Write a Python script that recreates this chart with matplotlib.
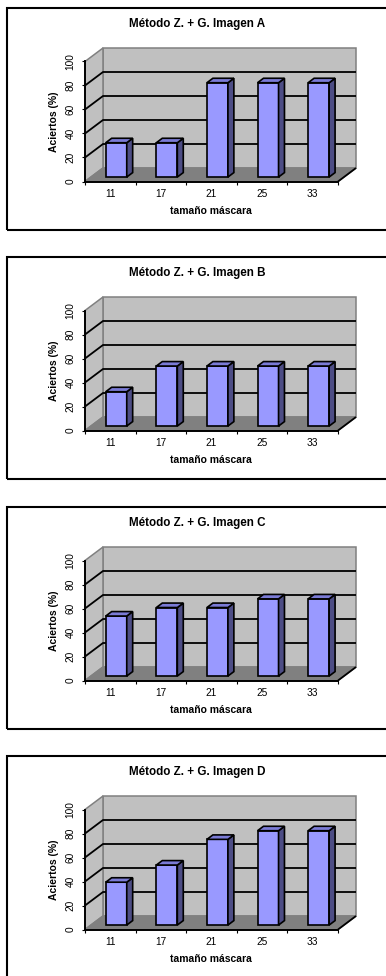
import numpy as np
import matplotlib
matplotlib.use("Agg")
import matplotlib.pyplot as plt
from matplotlib.patches import Polygon, Rectangle

plt.rcParams['font.family'] = ['Liberation Sans', 'DejaVu Sans']

# ---------------- data ----------------
categories = ["11", "17", "21", "25", "33"]
titles = ["Método Z. + G. Imagen A", "Método Z. + G. Imagen B",
          "Método Z. + G. Imagen C", "Método Z. + G. Imagen D"]
values_A = [28.6, 28.6, 78.6, 78.6, 78.6]
values_B = [28.6, 50.0, 50.0, 50.0, 50.0]
values_C = [50.0, 57.1, 57.1, 64.3, 64.3]
values_D = [35.7, 50.0, 71.4, 78.6, 78.6]
y_ticks = [0, 20, 40, 60, 80, 100]
x_label = "tamaño máscara"
y_label = "Aciertos (%)"

series = [values_A, values_B, values_C, values_D]

# ---------------- layout (pixels) ----------------
W, H = 386, 976
fig = plt.figure(figsize=(W / 100, H / 100), dpi=100)

panel_tops = [8, 257, 507, 756]
FRAME_L, FRAME_R, FRAME_H = 7, 389, 222
PL, PR = 85, 338          # front plane left/right
PT, PB = 53.5, 173.5      # front plane top (100) / bottom (0), relative to panel top
DEPTH_DX, DEPTH_DY = 18.0, 13.5

WALL = "#c0c0c0"
FLOOR = "#808080"
EDGE_GRAY = "#808080"
BAR_FRONT = "#9999ff"
BAR_SIDE = "#4d4d85"
BAR_TOP = "#7b7bd6"

n = len(categories)
ymax = y_ticks[-1]
px_per_cat = (PR - PL) / n
px_per_val = (PB - PT) / ymax
DX = DEPTH_DX / px_per_cat
DY = DEPTH_DY / px_per_val


def P(x, v, d):
    return (x + d * DX, v + d * DY)


def poly(ax, pts, fc, ec, lw, z):
    ax.add_patch(Polygon(pts, closed=True, facecolor=fc, edgecolor=ec,
                         linewidth=lw, zorder=z, clip_on=False,
                         joinstyle='miter'))


def line(ax, pts, color, lw, z):
    xs, ys = zip(*pts)
    ax.plot(xs, ys, color=color, lw=lw, zorder=z, clip_on=False,
            solid_capstyle='butt')


for k, (T, vals, title) in enumerate(zip(panel_tops, series, titles)):
    # frame
    fig.add_artist(Rectangle((FRAME_L / W, 1 - (T + FRAME_H) / H),
                             (FRAME_R - FRAME_L) / W, FRAME_H / H,
                             transform=fig.transFigure, fill=False,
                             linewidth=1.5, edgecolor='black'))
    fig.text(197 / W, 1 - (T + 16) / H, title, ha='center', va='center',
             fontsize=8.4, fontweight='bold')

    ax = fig.add_axes([PL / W, 1 - (T + PB) / H, (PR - PL) / W, (PB - PT) / H])
    ax.set_xlim(0, n)
    ax.set_ylim(0, ymax)
    ax.patch.set_visible(False)
    for s in ('top', 'right'):
        ax.spines[s].set_visible(False)
    for s in ('left', 'bottom'):
        ax.spines[s].set_linewidth(1.4)
        ax.spines[s].set_zorder(4)

    # walls and floor
    poly(ax, [P(0, 0, 1), P(n, 0, 1), P(n, ymax, 1), P(0, ymax, 1)],
         WALL, EDGE_GRAY, 1.1, 1)
    poly(ax, [P(0, 0, 0), P(0, 0, 1), P(0, ymax, 1), P(0, ymax, 0)],
         WALL, EDGE_GRAY, 1.1, 1)
    poly(ax, [P(0, 0, 0), P(n, 0, 0), P(n, 0, 1), P(0, 0, 1)],
         FLOOR, EDGE_GRAY, 1.1, 1.2)
    line(ax, [P(n, 0, 0), P(n, 0, 1)], 'black', 1.3, 2)

    # gridlines
    for v in y_ticks[1:-1]:
        line(ax, [P(0, v, 0), P(0, v, 1), P(n, v, 1)], 'black', 1.3, 1.5)

    # bars
    hw = 0.2075
    d0, d1 = 0.33, 0.66
    for i, v in enumerate(vals):
        c = i + 0.5
        poly(ax, [P(c - hw, 0, d0), P(c + hw, 0, d0), P(c + hw, v, d0), P(c - hw, v, d0)],
             BAR_FRONT, 'black', 1.2, 3)
        poly(ax, [P(c + hw, 0, d0), P(c + hw, 0, d1), P(c + hw, v, d1), P(c + hw, v, d0)],
             BAR_SIDE, 'black', 1.2, 3)
        poly(ax, [P(c - hw, v, d0), P(c + hw, v, d0), P(c + hw, v, d1), P(c - hw, v, d1)],
             BAR_TOP, 'black', 1.2, 3)

    # ticks
    ax.set_xticks(np.arange(n + 1))
    ax.set_xticklabels([])
    ax.set_xticks(np.arange(n) + 0.5, minor=True)
    ax.set_xticklabels(categories, minor=True, fontsize=7.3)
    ax.tick_params(axis='x', which='major', length=2.5, width=0.8, direction='out')
    ax.tick_params(axis='x', which='minor', length=0, pad=5.5)
    ax.set_yticks(y_ticks)
    ax.set_yticklabels([str(t) for t in y_ticks], fontsize=7.3, rotation=90,
                       va='center')
    ax.tick_params(axis='y', length=2.2, width=0.8, direction='out', pad=4.5)

    fig.text(211 / W, 1 - (T + 203) / H, x_label, ha='center', va='center',
             fontsize=7.5, fontweight='bold')
    fig.text(54 / W, 1 - (T + 114) / H, y_label, ha='center', va='center',
             fontsize=7.5, fontweight='bold', rotation=90)

fig.savefig("out.png", dpi=100)
